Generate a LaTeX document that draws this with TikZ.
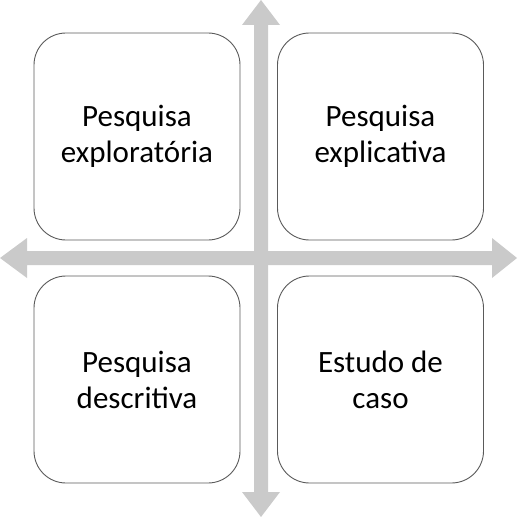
\documentclass[tikz,border=0pt]{standalone}
\usepackage{fontspec}
\setmainfont{Carlito}
\definecolor{arrowgray}{HTML}{CACACA}
\definecolor{boxline}{HTML}{5A5A5A}
\tikzset{
  quad/.style={draw=boxline, line width=0.9bp, fill=white, rounded corners=32bp,
    minimum width=206bp, minimum height=207bp, inner sep=0pt, align=center,
    font=\fontsize{31bp}{36bp}\selectfont},
  cross/.style={fill=arrowgray, draw=none}
}
\begin{document}
\begin{tikzpicture}[x=1bp, y=-1bp]
\useasboundingbox (0,0) rectangle (519,517);
% cross arrows
\coordinate (c) at (261,258);
\fill[cross] (0,258) -- (27,238) -- (27,251) -- (492,251) -- (492,238) -- (517,258)
  -- (492,278) -- (492,265) -- (27,265) -- (27,278) -- cycle;
\fill[cross] (261,0) -- (280,25) -- (268,25) -- (268,492) -- (280,492) -- (261,517)
  -- (242,492) -- (254,492) -- (254,25) -- (242,25) -- cycle;
% boxes
\node[quad] (tl) at (137,136.5) {Pesquisa\\explorat\'oria};
\node[quad] (tr) at (380.5,136.5) {Pesquisa\\explicativa};
\node[quad] (bl) at (137,379.5) {Pesquisa\\descritiva};
\node[quad] (br) at (380.5,379.5) {Estudo de\\caso};
\end{tikzpicture}
\end{document}
